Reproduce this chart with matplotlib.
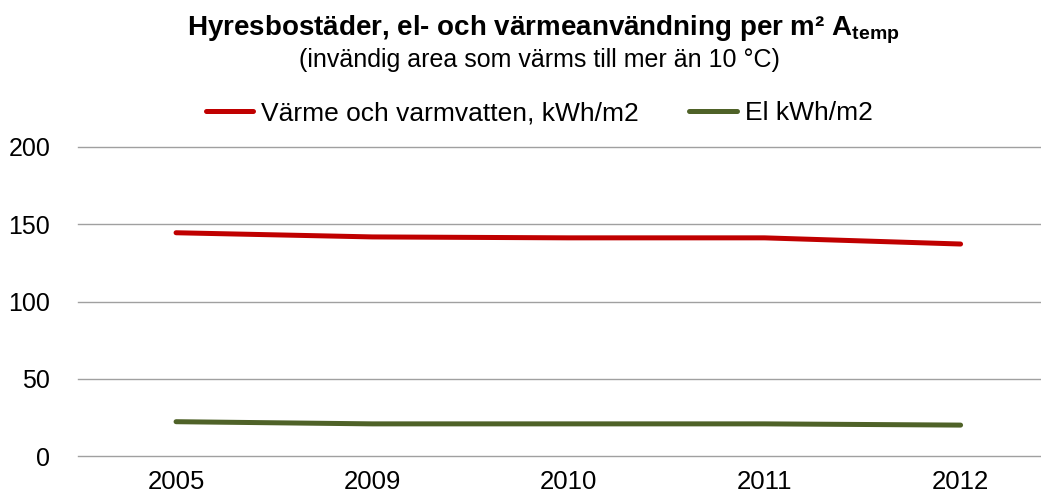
import matplotlib
matplotlib.use('Agg')
import matplotlib.pyplot as plt

plt.rcParams['font.family'] = ['Liberation Sans', 'DejaVu Sans']
plt.rcParams['mathtext.fontset'] = 'custom'
plt.rcParams['mathtext.rm'] = 'Liberation Sans'
plt.rcParams['mathtext.bf'] = 'Liberation Sans:bold'

# Data
years = ['2005', '2009', '2010', '2011', '2012']
varme = [144.5, 141.8, 141.2, 141.2, 137.2]
el = [22.2, 20.8, 20.8, 20.8, 20.0]

fig = plt.figure(figsize=(10.41, 4.97), dpi=100)
ax = fig.add_axes([78 / 1041, 41 / 497, 963 / 1041, 309 / 497])

x = range(len(years))
ax.plot(x, varme, color='#C00000', lw=3.6, label='Värme och varmvatten, kWh/m2', solid_capstyle='round')
ax.plot(x, el, color='#4F6228', lw=3.6, label='El kWh/m2', solid_capstyle='round')

ax.set_ylim(0, 200)
ax.set_xlim(-0.5, 4.41)
ax.set_yticks([0, 50, 100, 150, 200])
ax.set_xticks(list(x))
ax.set_xticklabels(years)
ax.tick_params(length=0)
ax.tick_params(axis='x', labelsize=18.5, pad=10)
ax.tick_params(axis='y', labelsize=18, pad=20)
ax.grid(axis='y', color='#a0a0a0', lw=1)
for gl in ax.get_ygridlines():
    gl.set_clip_on(False)
ax.set_axisbelow(True)
for s in ax.spines.values():
    s.set_visible(False)

# Titel
fig.text(0.522, 0.94, r'Hyresbostäder, el- och värmeanvändning per m² A$_\mathbf{temp}$',
         ha='center', va='center', fontsize=20, fontweight='bold')
fig.text(0.518, 0.879, '(invändig area som värms till mer än 10 °C)',
         ha='center', va='center', fontsize=18)

fig.legend(loc='center', bbox_to_anchor=(0.518, 0.772), ncol=2, frameon=False,
           fontsize=19, handlelength=1.8, columnspacing=1.9, handletextpad=0.3)

fig.savefig('out.png', dpi=100)
